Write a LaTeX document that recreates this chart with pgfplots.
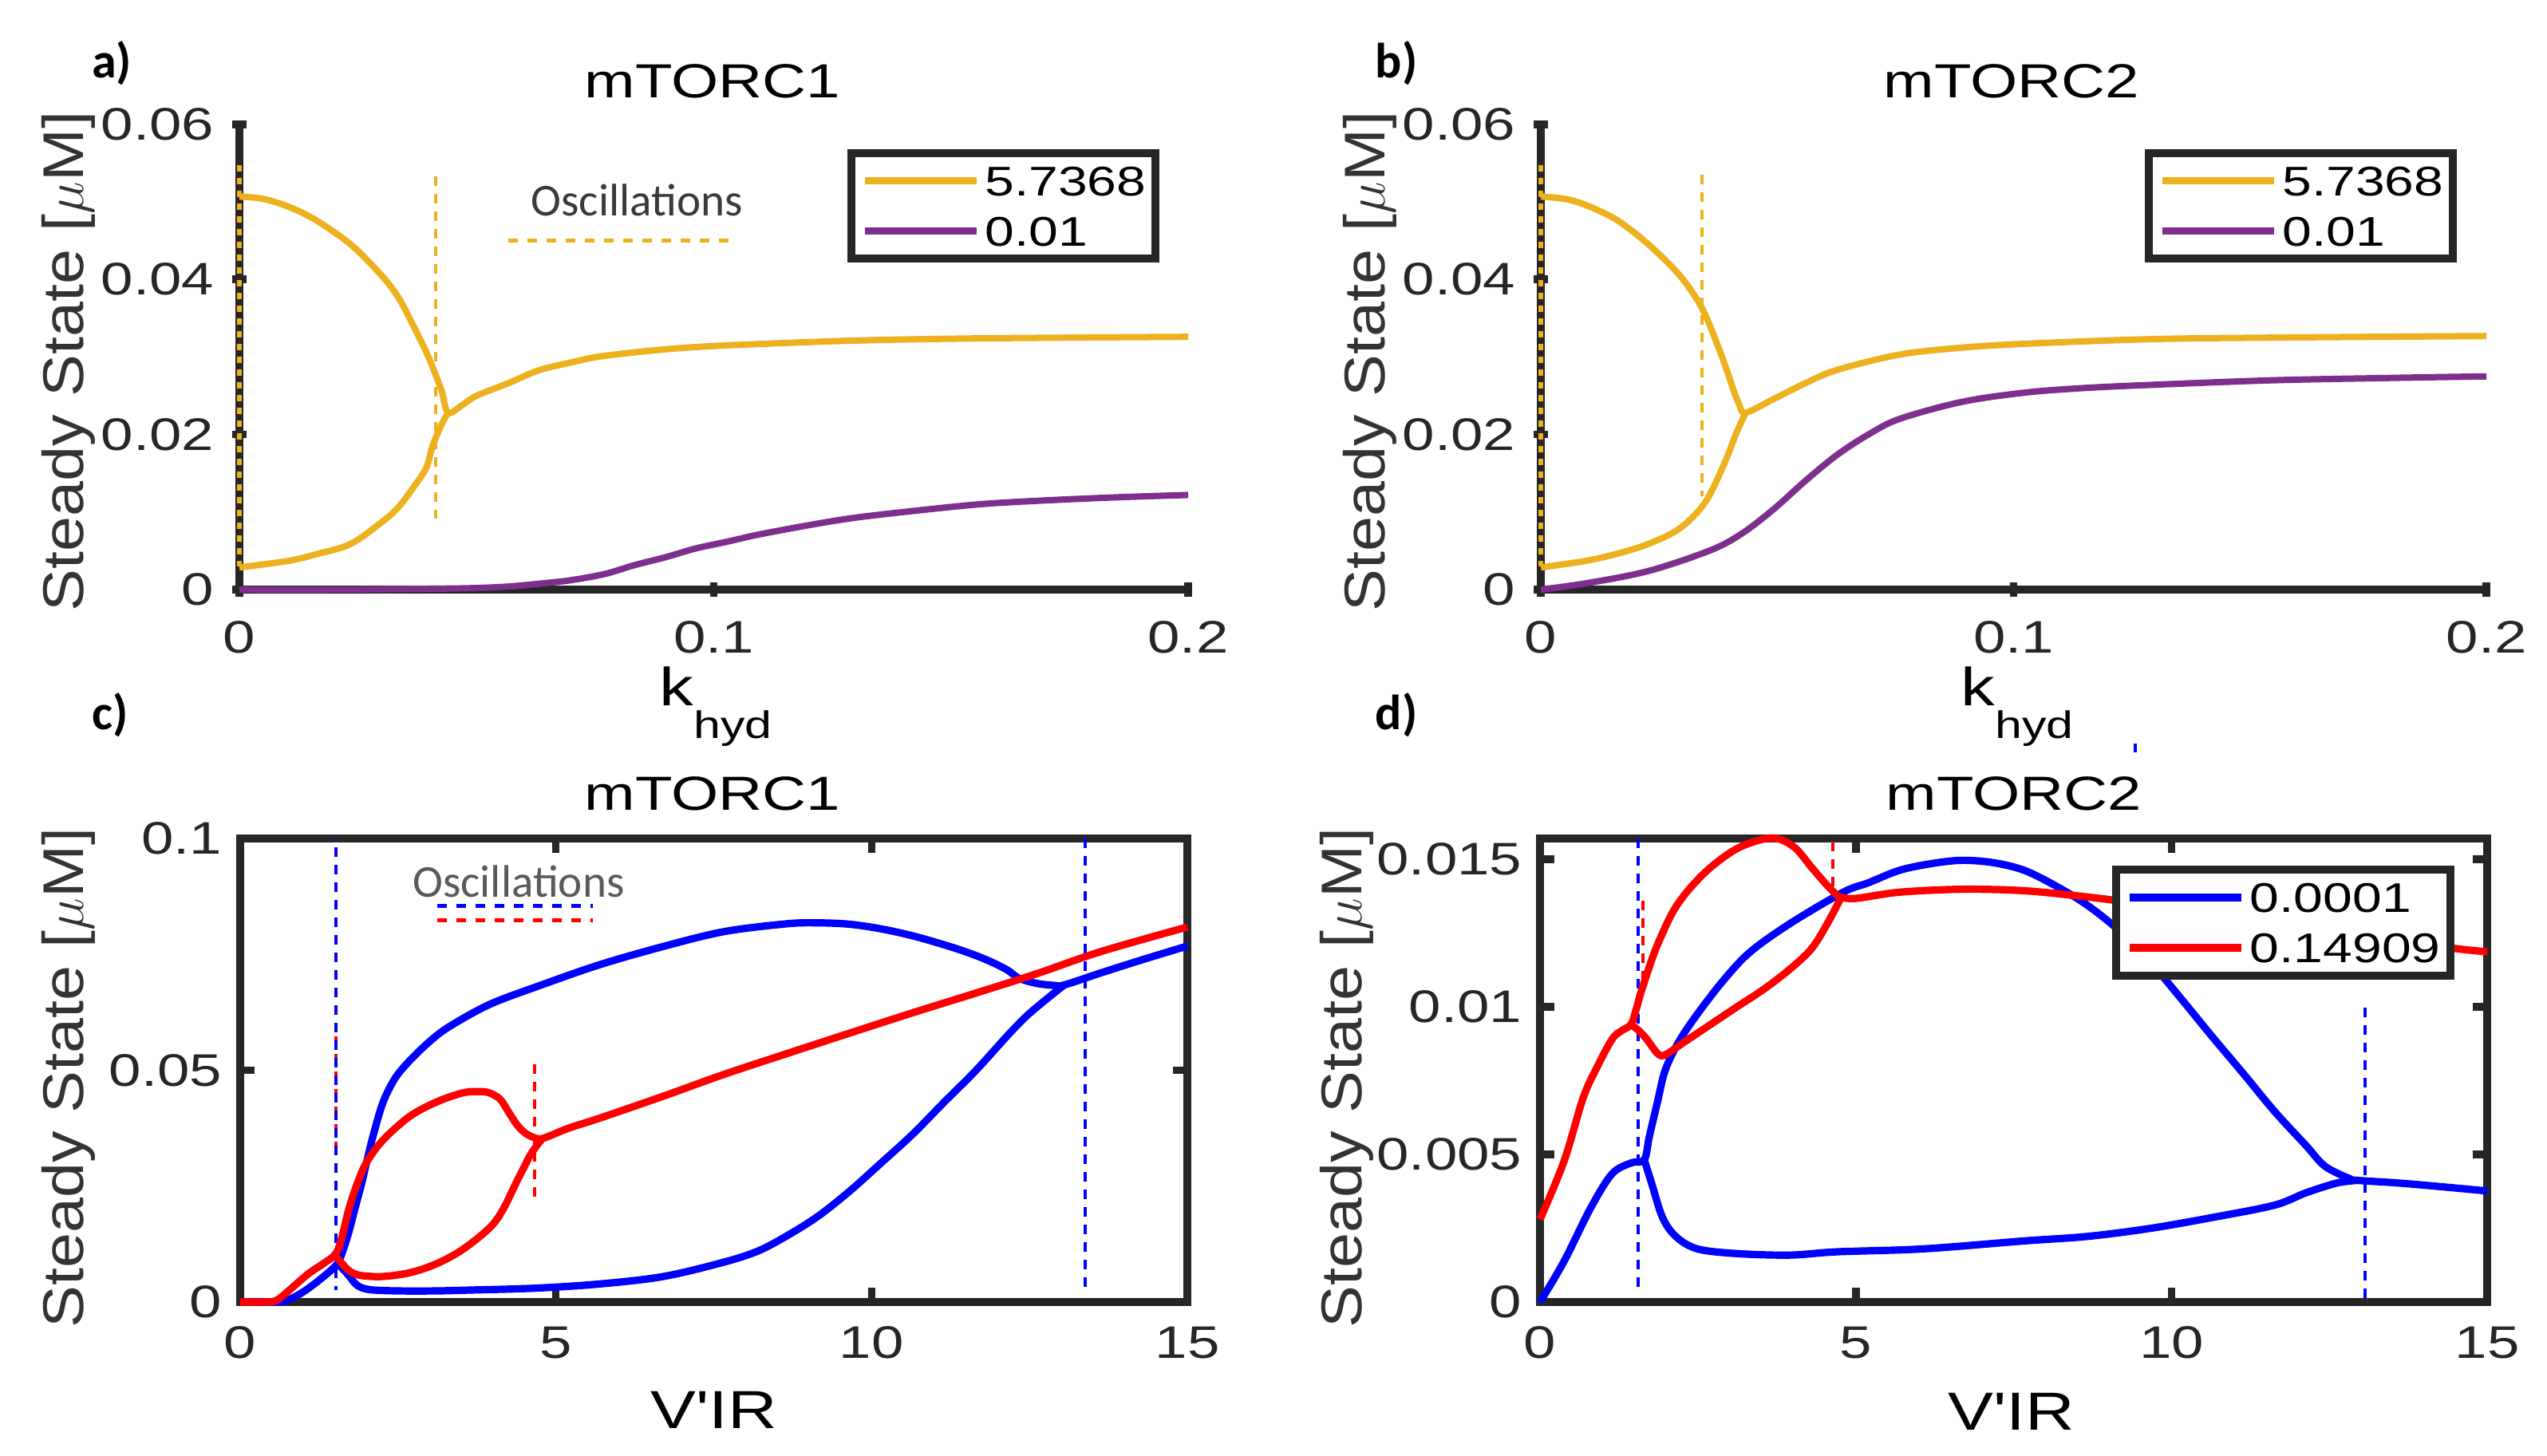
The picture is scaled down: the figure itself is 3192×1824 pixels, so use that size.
\documentclass[border=0pt]{standalone}
\usepackage{pgfplots}
\pgfplotsset{compat=1.18}
\usepackage{fontspec}
\setmainfont{Liberation Sans}
\newfontfamily\widesans{Liberation Sans}[FakeStretch=1.27]
\newfontfamily\ylabsans{Liberation Sans}[FakeStretch=1.1]
\newfontfamily\calsans{Carlito}

\definecolor{myyellow}{HTML}{EDB120}
\definecolor{mypurple}{HTML}{7E2F8E}
\definecolor{axisgray}{HTML}{262626}
\definecolor{labgray}{HTML}{333333}
\definecolor{oscgray}{HTML}{3A3A3A}
\definecolor{oscgrayc}{HTML}{5A5A5A}

\newcommand\tickf{\widesans\fontsize{14.3bp}{15bp}\selectfont}
\newcommand\titlef{\widesans\fontsize{15bp}{16bp}\selectfont}
\newcommand\labf{\widesans\fontsize{16.8bp}{17bp}\selectfont}
\newcommand\subf{\widesans\fontsize{12bp}{12bp}\selectfont}
\newcommand\legf{\widesans\fontsize{13bp}{13bp}\selectfont}
\newcommand\ylabf{\ylabsans\fontsize{18bp}{19bp}\selectfont}
\newcommand\oscf{\calsans\fontsize{14.3bp}{15bp}\selectfont}
\newcommand\panf{\calsans\bfseries\fontsize{15.5bp}{16bp}\selectfont}

\pgfplotsset{
  panel/.style={
    scale only axis, clip=false, anchor=south west,
    axis line style={axisgray, line width=2.5bp, -},
    tick style={axisgray, line width=2.4bp},
    major tick length=4.5bp, tick align=inside,
    scaled ticks=false,
    xticklabel style={font=\tickf, inner sep=0pt, yshift=-7.5bp, text=axisgray},
    yticklabel style={font=\tickf, inner sep=0pt, xshift=-5.5bp, text=axisgray},
    legend cell align=left,
    legend style={draw=axisgray, line width=2.5bp, fill=white, anchor=north east,
      inner xsep=3bp, inner ysep=4bp, font=\legf, row sep=6.5bp,
      nodes={inner sep=0pt, text height=9.3bp, text depth=0bp},
      /tikz/every odd column/.append style={column sep=1.5bp}},
  },
  openbox/.style={axis x line=bottom, axis y line=left,
    x axis line style={-}, y axis line style={-}},
  legend image code/.code={\draw[#1, line width=2.4bp, solid] (0bp,0bp) -- (35bp,0bp);},
  yel/.style={myyellow, line width=2bp, line join=round, smooth, tension=0.55},
  pur/.style={mypurple, line width=2bp, line join=round, smooth, tension=0.55},
  blu/.style={blue, line width=2.3bp, line join=round, smooth, tension=0.55},
  rd/.style={red, line width=2.3bp, line join=round, smooth, tension=0.55},
  vdash/.style={line width=1bp, dash pattern=on 3bp off 2.5bp},
}

\begin{document}
\begin{tikzpicture}[x=0.25bp, y=0.25bp]
\useasboundingbox (0,0) rectangle (3192,1824);
\fill[white] (0,0) rectangle (3192,1824);

% ---------------- a) mTORC1, k_hyd ----------------
\begin{axis}[panel, openbox, at={(75bp,271.25bp)}, width=297.25bp, height=145.75bp,
  xmin=0, xmax=0.2, ymin=0, ymax=0.06,
  xtick={0,0.1,0.2}, xticklabels={0,0.1,0.2},
  ytick={0,0.02,0.04,0.06}, yticklabels={0,0.02,0.04,0.06},
  legend style={at={(axis description cs:0.97,0.947)}}]
\addplot[myyellow, line width=1.4bp, dash pattern=on 2bp off 2bp, forget plot]
  coordinates {(0,0.0547) (0,0.003)};
\addplot[yel] coordinates {(0,0.0507) (0.005,0.0504) (0.0103,0.0494) (0.016,0.0477)
  (0.0235,0.0445) (0.030,0.0405) (0.0335,0.0377) (0.0367,0.034) (0.0395,0.0305)
  (0.0415,0.0275) (0.0427,0.0255) (0.044,0.0228) (0.047,0.0238) (0.05,0.025)
  (0.0566,0.0266) (0.0632,0.0283) (0.07,0.0293) (0.0764,0.0301) (0.09,0.031)
  (0.103,0.0315) (0.129,0.0321) (0.156,0.0324) (0.2,0.0326)};
\addlegendentry{5.7368}
\addplot[pur] coordinates {(0,0) (0.02,0) (0.04,0.0001) (0.05,0.0002) (0.057,0.0004)
  (0.064,0.0008) (0.0698,0.0012) (0.077,0.002) (0.083,0.0031) (0.09,0.0042)
  (0.0962,0.0053) (0.103,0.0062) (0.1095,0.0071) (0.12,0.0083) (0.129,0.0092)
  (0.14,0.01) (0.156,0.011) (0.17,0.0115) (0.185,0.0119) (0.2,0.0122)};
\addlegendentry{0.01}
\addplot[yel, forget plot] coordinates {(0,0.00285) (0.0103,0.0037) (0.0165,0.0046)
  (0.0235,0.0059) (0.030,0.0087) (0.0335,0.0106) (0.0367,0.0132) (0.0394,0.0157)
  (0.0407,0.0185) (0.0427,0.0214) (0.044,0.0228)};
\addplot[myyellow, vdash, forget plot] coordinates {(0.0414,0.0533) (0.0414,0.0092)};
\addplot[myyellow, line width=1.3bp, dash pattern=on 3bp off 3bp, forget plot]
  coordinates {(0.0567,0.045) (0.1048,0.045)};
\node[font=\oscf, text=oscgray] at (axis cs:0.0838,0.0502) {Oscillations};
\end{axis}

% ---------------- b) mTORC2, k_hyd ----------------
\begin{axis}[panel, openbox, at={(482.75bp,271.25bp)}, width=296.25bp, height=145.75bp,
  xmin=0, xmax=0.2, ymin=0, ymax=0.06,
  xtick={0,0.1,0.2}, xticklabels={0,0.1,0.2},
  ytick={0,0.02,0.04,0.06}, yticklabels={0,0.02,0.04,0.06},
  legend style={at={(axis description cs:0.969,0.947)}}]
\addplot[myyellow, line width=1.4bp, dash pattern=on 2bp off 2bp, forget plot]
  coordinates {(0,0.0547) (0,0.003)};
\addplot[yel] coordinates {(0,0.0507) (0.005,0.0504) (0.0095,0.0496) (0.016,0.0477)
  (0.0228,0.0445) (0.0294,0.0405) (0.034,0.0364) (0.0374,0.0315) (0.0395,0.028)
  (0.0407,0.0258) (0.042,0.0238) (0.0433,0.0228) (0.0493,0.0246) (0.0559,0.0266)
  (0.0625,0.0283) (0.0758,0.0303) (0.089,0.0312) (0.1023,0.0317) (0.129,0.0323)
  (0.155,0.0325) (0.2,0.0327)};
\addlegendentry{5.7368}
\addplot[pur] coordinates {(0,0) (0.0095,0.0008) (0.0228,0.0024) (0.036,0.0051)
  (0.0427,0.0073) (0.0493,0.0104) (0.0559,0.014) (0.0625,0.0173) (0.069,0.0199)
  (0.0758,0.022) (0.089,0.0242) (0.1023,0.0254) (0.115,0.026) (0.129,0.0264)
  (0.155,0.027) (0.18,0.0273) (0.2,0.0275)};
\addlegendentry{0.01}
\addplot[yel, forget plot] coordinates {(0,0.00285) (0.0095,0.0037) (0.016,0.0046)
  (0.0228,0.0059) (0.0294,0.0079) (0.0347,0.0112) (0.0387,0.0161) (0.0413,0.0201)
  (0.0433,0.0228)};
\addplot[myyellow, vdash, forget plot] coordinates {(0.034,0.0535) (0.034,0.012)};
\end{axis}

% ---------------- c) mTORC1, V'IR ----------------
\begin{axis}[panel, at={(75.25bp,48bp)}, width=296.75bp, height=145.25bp,
  xmin=0, xmax=15, ymin=0, ymax=0.1,
  xtick={0,5,10,15}, xticklabels={0,5,10,15},
  ytick={0,0.05,0.1}, yticklabels={0,0.05,0.1}]
\addplot[red, vdash] coordinates {(1.51,0.0573) (1.51,0.0322)};
\addplot[blue, vdash, dash phase=2.75bp] coordinates {(1.51,0.1) (1.51,0.0026)};
\addplot[blue, vdash] coordinates {(13.38,0.1) (13.38,0.0027)};
\addplot[red, vdash] coordinates {(4.66,0.0513) (4.66,0.0224)};
\addplot[blu] coordinates {(0,0) (0.4,0) (0.7,0.0002) (1.0,0.0022) (1.34,0.0057)
  (1.54,0.0083) (1.63,0.0112) (1.72,0.0151) (1.82,0.0203) (1.92,0.0254) (2.01,0.0306)
  (2.1,0.0356) (2.26,0.043) (2.45,0.0482) (2.68,0.052) (3.0,0.0562) (3.31,0.0594)
  (3.95,0.0642) (4.75,0.0683) (5.7,0.0728) (6.7,0.0767) (7.66,0.0799) (8.66,0.0816)
  (9.15,0.0818) (9.65,0.0815) (10.15,0.0805) (10.65,0.079) (11.14,0.0771) (11.5,0.0755)
  (11.84,0.0737) (12.14,0.0717) (12.34,0.0698) (12.63,0.0687) (12.9,0.0683)
  (13.05,0.0684) (13.63,0.071) (14.3,0.0739) (15,0.0768)};
\addplot[blu] coordinates {(1.54,0.0083) (1.62,0.0072) (1.72,0.0057) (1.82,0.004)
  (1.92,0.0031) (2.1,0.0026) (2.5,0.0024) (3.1,0.0024) (3.7,0.0026) (4.7,0.003)
  (5.7,0.0039) (6.7,0.0055) (7.66,0.0086) (8.2,0.011) (8.66,0.0143) (9.15,0.0185)
  (9.65,0.0239) (10.15,0.03) (10.65,0.0362) (11.14,0.043) (11.64,0.0498)
  (12.14,0.0573) (12.43,0.0614) (12.73,0.0649) (13.05,0.0684)};
\addplot[rd] coordinates {(0,0) (0.4,0) (0.58,0.0004) (0.79,0.0027) (1.08,0.0061)
  (1.34,0.0085) (1.5,0.0102) (1.59,0.0129) (1.72,0.02) (1.85,0.0254) (2.0,0.0301)
  (2.26,0.0349) (2.68,0.04) (3.1,0.0431) (3.52,0.0451) (3.78,0.0454) (3.95,0.0451)
  (4.12,0.0437) (4.25,0.041) (4.38,0.0383) (4.5,0.0366) (4.63,0.0356) (4.79,0.0353)
  (5.2,0.0375) (5.7,0.0397) (6.7,0.0444) (7.66,0.0491) (8.66,0.0536) (9.65,0.058)
  (10.65,0.0624) (11.64,0.0666) (12.63,0.0709) (13.63,0.0756) (15,0.0809)};
\addplot[rd] coordinates {(1.5,0.0102) (1.6,0.0085) (1.72,0.0068) (1.85,0.0059)
  (2.0,0.0056) (2.26,0.0055) (2.68,0.0063) (3.1,0.0082) (3.52,0.0113) (3.95,0.016)
  (4.16,0.0199) (4.38,0.026) (4.5,0.0292) (4.59,0.0316) (4.7,0.0338) (4.79,0.0353)};
\node[font=\oscf, text=oscgrayc] at (axis cs:4.41,0.0907) {Oscillations};
\addplot[blue, line width=1.3bp, dash pattern=on 3bp off 3bp]
  coordinates {(3.12,0.0855) (5.59,0.0855)};
\addplot[red, line width=1.3bp, dash pattern=on 3bp off 3bp]
  coordinates {(3.12,0.0824) (5.59,0.0824)};
\end{axis}

% ---------------- d) mTORC2, V'IR ----------------
\begin{axis}[panel, at={(482.5bp,48bp)}, width=296.75bp, height=145.25bp,
  xmin=0, xmax=15, ymin=0, ymax=0.0157,
  xtick={0,5,10,15}, xticklabels={0,5,10,15},
  ytick={0,0.005,0.01,0.015}, yticklabels={0,0.005,0.01,0.015},
  legend style={at={(axis description cs:0.965,0.941)}}]
\addplot[red, vdash, forget plot] coordinates {(1.63,0.0136) (1.63,0.0109)};
\addplot[blue, vdash, forget plot] coordinates {(1.555,0.0157) (1.555,0.0005)};
\addplot[blue, vdash, forget plot] coordinates {(13.07,0.00996) (13.07,0.0001)};
\addplot[red, vdash, forget plot] coordinates {(4.64,0.0156) (4.64,0.0138)};
\addplot[blue, line width=1bp, forget plot] coordinates {(9.42,0.01862) (9.42,0.01892)};
\addplot[blu] coordinates {(0,0) (0.38,0.00138) (0.8,0.00318) (1.14,0.00434)
  (1.44,0.00471) (1.65,0.00482) (1.73,0.0056) (1.86,0.00678) (1.98,0.00784)
  (2.19,0.00879) (2.49,0.00975) (2.91,0.01091) (3.33,0.01186) (3.96,0.01282)
  (4.8,0.01388) (5.2,0.0142) (5.69,0.01462) (6.2,0.01485) (6.68,0.01496)
  (7.18,0.01488) (7.67,0.01462) (8.17,0.01409) (8.66,0.01345) (9.16,0.0126)
  (9.65,0.01155) (10.15,0.01028) (10.64,0.009) (11.14,0.00773) (11.63,0.00646)
  (12.13,0.0053) (12.43,0.0046) (12.82,0.00418) (12.95,0.00412) (13.6,0.00403)
  (14.3,0.0039) (15,0.00376)};
\addlegendentry{0.0001}
\addplot[rd] coordinates {(0,0.0028) (0.38,0.00477) (0.68,0.0069) (0.89,0.0079)
  (1.14,0.0089) (1.3,0.0092) (1.44,0.0094) (1.52,0.0099) (1.6,0.0105) (1.77,0.0116)
  (1.9,0.0123) (2.11,0.01324) (2.36,0.01398) (2.7,0.01472) (3.12,0.01536)
  (3.54,0.01568) (3.79,0.01568) (4.05,0.01536) (4.3,0.01472) (4.51,0.0142)
  (4.68,0.01382) (4.76,0.01372) (5.0,0.01367) (5.69,0.01388) (6.68,0.01398)
  (7.67,0.01393) (8.66,0.01372) (9.26,0.01356) (10.5,0.0132) (12,0.0127)
  (13.5,0.01225) (14.5,0.01197) (15,0.01186)};
\addlegendentry{0.14909}
\addplot[blu, forget plot] coordinates {(1.65,0.00482) (1.77,0.004) (1.94,0.00286)
  (2.15,0.00222) (2.49,0.0018) (3.12,0.00164) (3.96,0.00159) (4.7,0.0017)
  (6.07,0.0018) (7.67,0.00207) (8.66,0.00222) (9.65,0.00249) (10.64,0.00286)
  (11.63,0.00328) (12.13,0.0037) (12.62,0.00403) (12.95,0.00412)};
\addplot[rd, forget plot] coordinates {(1.44,0.0094) (1.56,0.0092) (1.69,0.0089)
  (1.86,0.00842) (1.98,0.00837) (2.28,0.0088) (2.7,0.0094) (3.12,0.01)
  (3.54,0.01059) (3.96,0.01128) (4.3,0.01197) (4.55,0.01282) (4.76,0.01367)};
\end{axis}

% ---------------- panel letters, titles and axis labels ----------------
\node[font=\panf] at (140,1745) {a)};
\node[font=\panf] at (1750,1745) {b)};
\node[font=\panf] at (138,928) {c)};
\node[font=\panf] at (1750,928) {d)};

\node[font=\titlef, anchor=base] at (893,1701) {mTORC1};
\node[font=\titlef, anchor=base] at (2521,1701) {mTORC2};
\node[font=\titlef, anchor=base] at (893,808) {mTORC1};
\node[font=\titlef, anchor=base] at (2524,808) {mTORC2};

\node[font=\labf, anchor=base west, inner sep=0pt] at (826,939)
  {k\raisebox{-10.25bp}{\subf hyd}};
\node[font=\labf, anchor=base west, inner sep=0pt] at (2457,939)
  {k\raisebox{-10.25bp}{\subf hyd}};
\node[font=\labf, anchor=base] at (895,34) {V'IR};
\node[font=\labf, anchor=base] at (2521,32) {V'IR};

\node[font=\ylabf, rotate=90, text=labgray] at (86,1371) {Steady State [$\mu$M]};
\node[font=\ylabf, rotate=90, text=labgray] at (1717,1371) {Steady State [$\mu$M]};
\node[font=\ylabf, rotate=90, text=labgray] at (86,473) {Steady State [$\mu$M]};
\node[font=\ylabf, rotate=90, text=labgray] at (1688,473) {Steady State [$\mu$M]};
\end{tikzpicture}
\end{document}
